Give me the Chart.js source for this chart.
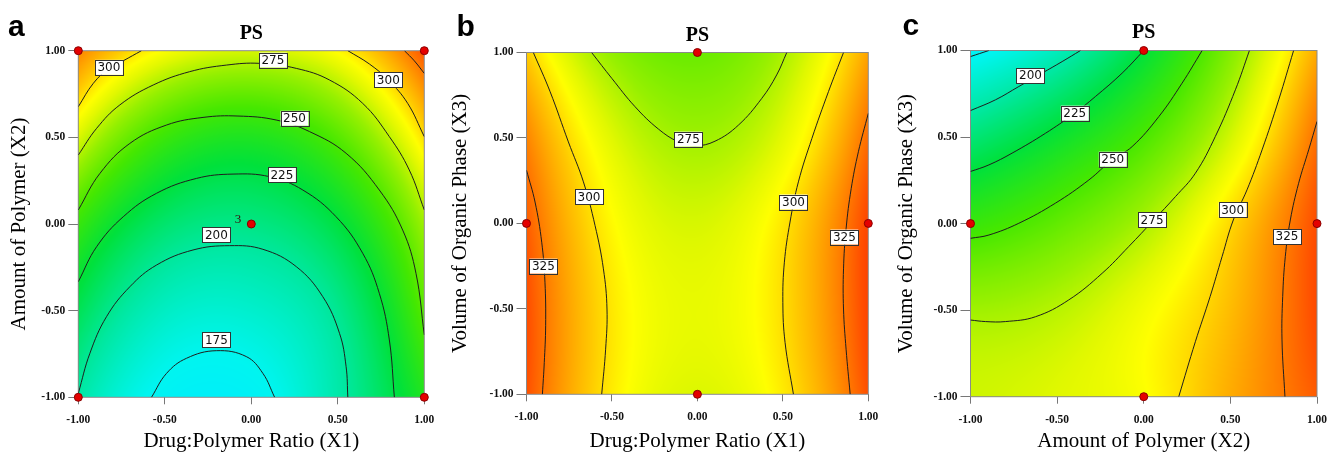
<!DOCTYPE html>
<html>
<head>
<meta charset="utf-8">
<script src="https://cdn.jsdelivr.net/npm/chart.js@4.4.1/dist/chart.umd.min.js"></script>
<style>
  html, body { margin: 0; padding: 0; background: #fff; }
  body { width: 1338px; height: 454px; position: relative; overflow: hidden; }
  .panel { position: absolute; top: 0; width: 446px; height: 454px; }
</style>
</head>
<body>
<div class="panel" style="left:0px"><canvas id="chartA" width="446" height="454"></canvas></div>
<div class="panel" style="left:446px"><canvas id="chartB" width="446" height="454"></canvas></div>
<div class="panel" style="left:892px"><canvas id="chartC" width="446" height="454"></canvas></div>
<script>
// coded factor levels and their tick labels
const ticks = [-1, -0.5, 0, 0.5, 1];
const tickLabels = ['-1.00', '-0.50', '0.00', '0.50', '1.00'];

// PS response at the tick grid (rows: top = 1.00 down to -1.00)
const gridA = [
  [322, 292, 283, 294, 334],
  [284, 246, 236, 254, 300],
  [245, 213, 207, 224, 272],
  [219, 189, 186, 204, 255],
  [199, 171, 170, 197, 237]
];
const gridB = [
  [304, 269, 259, 274, 314],
  [322, 285, 272, 286, 328],
  [332, 294, 283, 298, 338],
  [336, 298, 287, 300, 339],
  [335, 297, 284, 297, 335]
];
const gridC = [
  [170, 191, 225, 265, 312],
  [210, 229, 251, 282, 327],
  [245, 257, 274, 301, 336],
  [272, 277, 290, 308, 337],
  [281, 285, 292, 312, 332]
];

// contour lines, [x, y] in coded units
const a175 = [[-0.577,-1.0],[-0.490,-0.862],[-0.375,-0.775],[-0.202,-0.731],[-0.029,-0.765],[0.067,-0.862],[0.135,-1.0]];
const a200 = [[-1.0,-0.977],[-0.933,-0.746],[-0.837,-0.535],[-0.702,-0.362],[-0.548,-0.237],[-0.337,-0.150],[-0.125,-0.125],[0.067,-0.146],[0.260,-0.246],[0.413,-0.419],[0.510,-0.631],[0.548,-0.823],[0.558,-1.0]];
const a225 = [[-1.0,-0.333],[-0.894,-0.131],[-0.740,0.042],[-0.548,0.177],[-0.317,0.263],[-0.106,0.288],[0.106,0.273],[0.298,0.196],[0.490,0.042],[0.644,-0.169],[0.740,-0.400],[0.798,-0.669],[0.827,-1.0]];
const a250 = [[-1.0,0.081],[-0.875,0.292],[-0.702,0.465],[-0.490,0.571],[-0.279,0.615],[-0.077,0.623],[0.144,0.600],[0.337,0.533],[0.548,0.408],[0.740,0.196],[0.875,-0.035],[0.952,-0.285],[1.0,-0.640]];
const a275 = [[-1.0,0.398],[-0.894,0.552],[-0.760,0.687],[-0.567,0.802],[-0.356,0.879],[-0.144,0.917],[0.048,0.927],[0.260,0.898],[0.452,0.831],[0.644,0.696],[0.798,0.504],[0.913,0.312],[1.0,0.081]];
const a300L = [[-0.635,1.0],[-0.740,0.942],[-0.823,0.898],[-0.913,0.812],[-1.0,0.677]];
const a300R = [[0.558,1.0],[0.683,0.923],[0.792,0.831],[0.904,0.696],[1.0,0.504]];
const a325 = [[0.885,1.0],[0.942,0.942],[1.0,0.869]];

const b275 = [[-0.619,1.0],[-0.501,0.849],[-0.365,0.683],[-0.228,0.552],[-0.111,0.477],[-0.014,0.454],[0.103,0.481],[0.240,0.575],[0.377,0.732],[0.464,0.869],[0.523,1.0]];
const b300L = [[-0.960,1.0],[-0.862,0.771],[-0.755,0.477],[-0.667,0.243],[-0.599,-0.012],[-0.550,-0.266],[-0.529,-0.501],[-0.537,-0.736],[-0.560,-1.0]];
const b300R = [[0.855,1.0],[0.767,0.771],[0.670,0.497],[0.591,0.243],[0.542,0.008],[0.509,-0.227],[0.500,-0.462],[0.513,-0.697],[0.562,-1.0]];
const b325L = [[-1.0,0.311],[-0.950,0.125],[-0.911,-0.110],[-0.892,-0.344],[-0.888,-0.599],[-0.896,-0.814],[-0.907,-1.0]];
const b325R = [[1.0,0.644],[0.942,0.419],[0.900,0.204],[0.870,-0.031],[0.855,-0.266],[0.855,-0.501],[0.870,-0.736],[0.894,-1.0]];

const c175 = [[-1.0,0.965],[-0.894,1.0]];
const c200 = [[-0.365,1.0],[-0.471,0.936],[-0.587,0.869],[-0.721,0.792],[-0.856,0.715],[-1.0,0.653]];
const c225 = [[0,1.0],[-0.125,0.869],[-0.279,0.734],[-0.404,0.634],[-0.567,0.522],[-0.760,0.407],[-0.894,0.339],[-1.0,0.301]];
const c250 = [[0.337,1.0],[0.221,0.811],[0.087,0.618],[-0.067,0.445],[-0.183,0.368],[-0.317,0.252],[-0.510,0.118],[-0.721,0.002],[-0.894,-0.066],[-1.0,-0.085]];
const c275 = [[0.610,1.0],[0.529,0.773],[0.413,0.503],[0.298,0.291],[0.183,0.156],[0.058,0.021],[-0.087,-0.133],[-0.240,-0.287],[-0.433,-0.441],[-0.625,-0.538],[-0.798,-0.566],[-0.913,-0.566],[-1.0,-0.557]];
const c300 = [[0.865,1.0],[0.779,0.715],[0.683,0.426],[0.596,0.195],[0.517,0.021],[0.452,-0.191],[0.383,-0.422],[0.298,-0.682],[0.202,-1.0]];
const c325 = [[1.0,0.590],[0.952,0.426],[0.894,0.233],[0.846,0.021],[0.817,-0.191],[0.802,-0.422],[0.798,-0.672],[0.815,-1.0]];

// contour labels: [x, y, text]
const labelsA = [[-0.823,0.904,'300'],[0.125,0.946,'275'],[0.792,0.831,'300'],[0.25,0.61,'250'],[0.177,0.283,'225'],[-0.202,-0.063,'200'],[-0.202,-0.669,'175']];
const labelsB = [[-0.053,0.493,'275'],[-0.634,0.155,'300'],[0.562,0.125,'300'],[-0.901,-0.25,'325'],[0.860,-0.08,'325']];
const labelsC = [[-0.654,0.854,'200'],[-0.398,0.638,'225'],[-0.179,0.372,'250'],[0.048,0.021,'275'],[0.513,0.079,'300'],[0.827,-0.075,'325']];

// design points
const pointsA = [[-1,1],[1,1],[-1,-1],[1,-1],[0,0]];
const pointsB = [[0,1],[-1,0],[1,0],[0,-1]];
const pointsC = [[0,1],[-1,0],[1,0],[0,-1]];
const repsA = [[-0.058,0.023,'3']];

// colour ramp of the response
const rampValues = [160, 175, 200, 225, 250, 270, 285, 293, 305, 320, 335, 345];
const rampColors = [[0,235,255],[0,245,240],[0,232,160],[0,225,60],[70,232,0],[150,240,0],[225,248,0],[255,255,0],[255,200,0],[255,140,0],[255,80,0],[250,50,0]];

function rampColor(v) {
  if (v <= rampValues[0]) return rampColors[0];
  for (let i = 1; i < rampValues.length; i++) {
    if (v <= rampValues[i]) {
      const t = (v - rampValues[i - 1]) / (rampValues[i] - rampValues[i - 1]);
      const a = rampColors[i - 1], b = rampColors[i];
      return [a[0] + (b[0] - a[0]) * t, a[1] + (b[1] - a[1]) * t, a[2] + (b[2] - a[2]) * t];
    }
  }
  return rampColors[rampColors.length - 1];
}

// pad grid with one ghost cell each side so the shading is smooth up to the frame
function padGrid(g) {
  const n = g.length;
  const rows = g.map(r => [3 * r[0] - 3 * r[1] + r[2], ...r, 3 * r[n - 1] - 3 * r[n - 2] + r[n - 3]]);
  const m = rows[0].length;
  const top = [], bot = [];
  for (let c = 0; c < m; c++) {
    top.push(3 * rows[0][c] - 3 * rows[1][c] + rows[2][c]);
    bot.push(3 * rows[n - 1][c] - 3 * rows[n - 2][c] + rows[n - 3][c]);
  }
  return [top, ...rows, bot];
}

function cr(p0, p1, p2, p3, t) {
  return p1 + 0.5 * t * (p2 - p0 + t * (2 * p0 - 5 * p1 + 4 * p2 - p3 + t * (3 * (p1 - p2) + p3 - p0)));
}

function sample(P, u, v) {
  const n = P.length - 3;
  let i = Math.min(Math.max(Math.floor(u), 0), n - 1);
  let r = Math.min(Math.max(Math.floor(v), 0), n - 1);
  const t = u - i, s = v - r;
  const col = [];
  for (let k = 0; k < 4; k++) {
    const row = P[r + k];
    col.push(cr(row[i], row[i + 1], row[i + 2], row[i + 3], t));
  }
  return cr(col[0], col[1], col[2], col[3], s);
}

const surfacePlugin = {
  id: 'surface',
  beforeDatasetsDraw(chart, args, opts) {
    const { ctx, chartArea: ca, scales: { x, y } } = chart;
    const dpr = chart.currentDevicePixelRatio || 1;
    const w = Math.round((ca.right - ca.left) * dpr), h = Math.round((ca.bottom - ca.top) * dpr);
    if (!chart.$surface || chart.$surface.width !== w || chart.$surface.height !== h) {
      const off = document.createElement('canvas');
      off.width = w; off.height = h;
      const octx = off.getContext('2d');
      const img = octx.createImageData(w, h);
      const P = padGrid(opts.grid);
      const step = ticks[1] - ticks[0];
      for (let j = 0; j < h; j++) {
        const yv = y.getValueForPixel(ca.top + (j + 0.5) / dpr);
        const v = (ticks[ticks.length - 1] - yv) / step;
        for (let i = 0; i < w; i++) {
          const xv = x.getValueForPixel(ca.left + (i + 0.5) / dpr);
          const u = (xv - ticks[0]) / step;
          const c = rampColor(sample(P, u, v));
          const k = (j * w + i) * 4;
          img.data[k] = c[0]; img.data[k + 1] = c[1]; img.data[k + 2] = c[2]; img.data[k + 3] = 255;
        }
      }
      octx.putImageData(img, 0, 0);
      chart.$surface = off;
    }
    ctx.save();
    ctx.drawImage(chart.$surface, ca.left, ca.top, ca.right - ca.left, ca.bottom - ca.top);
    ctx.strokeStyle = '#8a8a8a';
    ctx.lineWidth = 1;
    ctx.strokeRect(ca.left, ca.top, ca.right - ca.left, ca.bottom - ca.top);
    ctx.restore();
  },
  afterDatasetsDraw(chart, args, opts) {
    const { ctx, scales: { x, y } } = chart;
    ctx.save();
    ctx.font = '12px "DejaVu Sans", sans-serif';
    ctx.textAlign = 'center';
    ctx.textBaseline = 'middle';
    opts.labels.forEach(([lx, ly, text]) => {
      const px = x.getPixelForValue(lx), py = y.getPixelForValue(ly);
      const tw = ctx.measureText(text).width + 5, th = 15;
      ctx.fillStyle = '#fff';
      ctx.fillRect(px - tw / 2, py - th / 2, tw, th);
      ctx.strokeStyle = '#333';
      ctx.lineWidth = 1;
      ctx.strokeRect(Math.round(px - tw / 2) + 0.5, Math.round(py - th / 2) + 0.5, Math.round(tw), th);
      ctx.fillStyle = '#111';
      ctx.fillText(text, px, py + 0.5);
    });
    ctx.font = '13px "Liberation Serif", serif';
    ctx.textAlign = 'right';
    ctx.fillStyle = '#3a0a0a';
    (opts.reps || []).forEach(([lx, ly, text]) => {
      ctx.fillText(text, x.getPixelForValue(lx), y.getPixelForValue(ly));
    });
    ctx.restore();
  },
  afterDraw(chart, args, opts) {
    const { ctx } = chart;
    ctx.save();
    ctx.font = 'bold 30px "Liberation Sans", Arial, sans-serif';
    ctx.fillStyle = '#000';
    ctx.textBaseline = 'alphabetic';
    ctx.fillText(opts.letter[0], opts.letter[1], opts.letter[2]);
    ctx.restore();
  }
};

function lineSet(pts) {
  return {
    data: pts.map(([x, y]) => ({ x, y })),
    showLine: true,
    borderColor: '#1e1e1e',
    borderWidth: 1,
    pointRadius: 0,
    tension: 0.4,
    fill: false
  };
}

function makePanel(id, p) {
  const datasets = [{
    data: p.points.map(([x, y]) => ({ x, y })),
    showLine: false,
    pointRadius: 4,
    pointBackgroundColor: '#e40000',
    pointBorderColor: '#8a0000',
    pointBorderWidth: 1,
    clip: false
  }].concat(p.lines.map(lineSet));

  const serif = '"Liberation Serif", "Times New Roman", serif';
  new Chart(document.getElementById(id), {
    type: 'scatter',
    data: { datasets },
    options: {
      responsive: false,
      animation: false,
      events: [],
      layout: { padding: { left: 0, right: p.padRight, top: 0, bottom: 0 } },
      plugins: {
        legend: { display: false },
        tooltip: { enabled: false },
        title: {
          display: true, text: 'PS', fullSize: false,
          font: { family: serif, size: 20, weight: 'bold' }, color: '#000',
          padding: { top: p.titleTop, bottom: p.titleBottom }
        },
        surface: { grid: p.grid, labels: p.labels, reps: p.reps, letter: p.letter }
      },
      scales: {
        x: {
          type: 'linear', min: -1, max: 1,
          afterBuildTicks: s => { s.ticks = ticks.map(v => ({ value: v })); },
          afterFit: s => { s.height = p.xAxisH; },
          ticks: {
            callback: (v, i) => tickLabels[i], autoSkip: false, maxRotation: 0,
            font: { family: serif, size: 11.5, weight: 'bold' }, color: '#111', padding: 9
          },
          grid: { drawOnChartArea: false, drawTicks: true, tickLength: 7, tickColor: '#777' },
          border: { display: false },
          title: { display: true, text: p.xTitle, font: { family: serif, size: 21 }, color: '#000', padding: { top: 0, bottom: 0 } }
        },
        y: {
          type: 'linear', min: -1, max: 1,
          afterBuildTicks: s => { s.ticks = ticks.map(v => ({ value: v })); },
          afterFit: s => { s.width = p.yAxisW; },
          ticks: {
            callback: (v, i) => tickLabels[i], autoSkip: false,
            font: { family: serif, size: 11.5, weight: 'bold' }, color: '#111', padding: 3
          },
          grid: { drawOnChartArea: false, drawTicks: true, tickLength: 10, tickColor: '#777' },
          border: { display: false },
          title: { display: true, text: p.yTitle, font: { family: serif, size: 21 }, color: '#000', padding: { top: p.yTitleGap, bottom: 0 } }
        }
      }
    },
    plugins: [surfacePlugin]
  });
}

makePanel('chartA', {
  grid: gridA, lines: [a175, a200, a225, a250, a275, a300L, a300R, a325],
  labels: labelsA, points: pointsA, reps: repsA, letter: ['a', 8, 36],
  xTitle: 'Drug:Polymer Ratio (X1)', yTitle: 'Amount of Polymer (X2)',
  padRight: 21.7, yAxisW: 78.3, xAxisH: 56.7, titleTop: 21.7, titleBottom: 5, yTitleGap: 6.4
});
makePanel('chartB', {
  grid: gridB, lines: [b275, b300L, b300R, b325L, b325R],
  labels: labelsB, points: pointsB, letter: ['b', 10.5, 36],
  xTitle: 'Drug:Polymer Ratio (X1)', yTitle: 'Volume of Organic Phase (X3)',
  padRight: 23.7, yAxisW: 80.5, xAxisH: 59.7, titleTop: 23.8, titleBottom: 4.7, yTitleGap: 1.4
});
makePanel('chartC', {
  grid: gridC, lines: [c175, c200, c225, c250, c275, c300, c325],
  labels: labelsC, points: pointsC, letter: ['c', 10.5, 35],
  xTitle: 'Amount of Polymer (X2)', yTitle: 'Volume of Organic Phase (X3)',
  padRight: 21, yAxisW: 78.5, xAxisH: 57.3, titleTop: 21.3, titleBottom: 5.2, yTitleGap: 2.1
});
</script>
</body>
</html>
